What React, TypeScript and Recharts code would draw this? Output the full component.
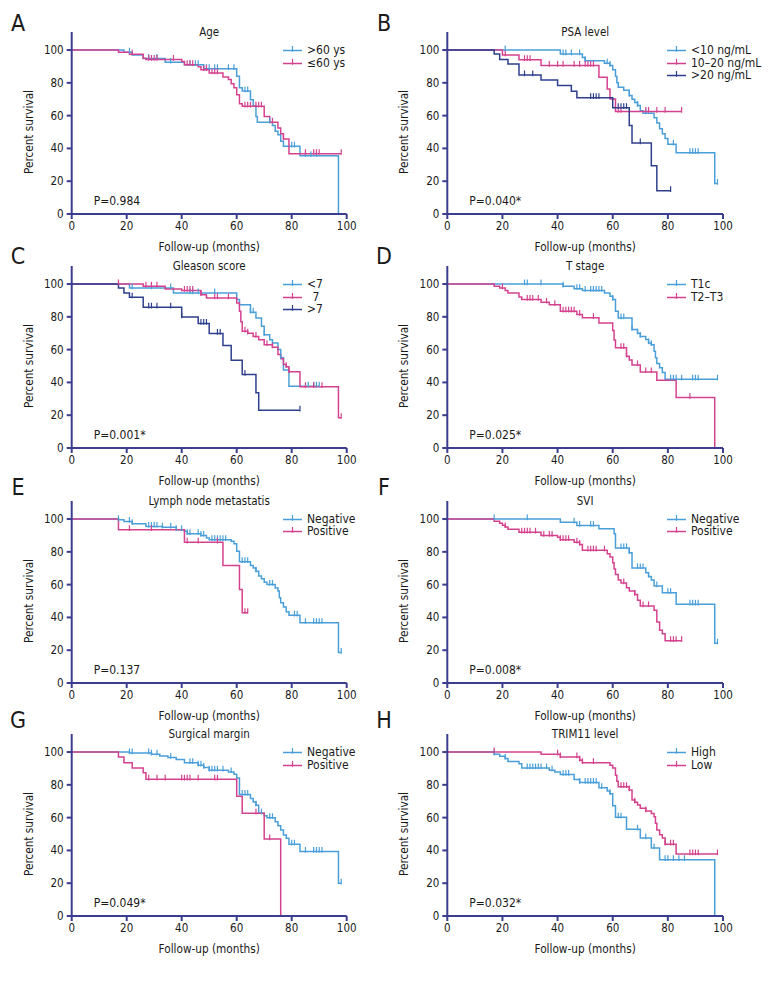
import React from 'react';
import { ComposedChart, Line, XAxis, YAxis } from 'recharts';

const FONT = "'Liberation Sans Narrow', 'DejaVu Sans Condensed', 'Arial Narrow', sans-serif";
const BLUE = '#4a9fd9';
const PINK = '#d4428f';
const NAVY = '#2e3f8c';
const AXIS = '#3b3d8e';
const TEXT = '#1a1a1a';

const xTicks = [0, 20, 40, 60, 80, 100];
const yTicks = [0, 20, 40, 60, 80, 100];
const xLabel = 'Follow-up (months)';
const yLabel = 'Percent survival';

// ---- A: Age ----
const A_over60_steps = [[0,100],[19,98.6],[22,97],[26,94.8],[34,92.5],[41,91],[48,88.6],[60,84],[61,77],[62,75],[65,69.7],[66,66],[67,59.5],[67.5,56],[73,54],[74,50.5],[75,48.3],[76,44.3],[77,41.3],[83,35.6],[97,0]];
const A_over60_censor = [21,28,31,36,43,45,46,49,50,52,53,57,59,63,64,72,80,81,85,87,89];
const A_under60_steps = [[0,100],[17,98.6],[21,97.5],[26,95],[27,94.2],[40,93],[41,91],[46,89.8],[47,88],[50,86],[55,83.5],[57,82],[58,79.5],[59,77],[60,72.8],[61,67.3],[62,65.7],[70,59.5],[72,56],[75,52.4],[76,49],[77,45.7],[79,36.8]];
const A_under60_censor = [22,28,29,30,31,37,42,43,44,48,49,51,52,53,63,64,65,67,68,69,73,77,85,88,89,90,98];

// ---- B: PSA level ----
const B_lt10_steps = [[0,100],[41,97.6],[49,95.5],[50,93.5],[57,92],[59,90.5],[60,88],[61,84],[61.5,80],[62,77.3],[64,75.5],[66,72.3],[67,70],[68,68],[69,66.2],[70,63],[71,61.5],[75,58.7],[76,55.5],[77,52],[78,49],[79,46],[80,42.5],[83,37.4],[97,18.6]];
const B_lt10_censor = [21,42,43,45,48,50,58,59,66,69,72,82,88,89,90,91,98];
const B_10to20_steps = [[0,100],[20,97],[26,94],[34,90.5],[55,83.4],[58,76.3],[59,70.2],[61,62.5]];
const B_10to20_censor = [21,28,29,30,37,40,42,46,48,50,51,52,53,62,63,72,73,76,79,85];
const B_gt20_steps = [[0,100],[17,97.6],[19,94.3],[22,91.5],[26,84.8],[34,81.8],[40,78.3],[45,74.9],[47,70.9],[60,64.8],[66,54],[67,43.3],[74,29.4],[76,14.2]];
const B_gt20_censor = [28,31,52,53,54,55,62,63,64,65,70,81];

// ---- C: Gleason score ----
const C_lt7_steps = [[0,100],[21,97.6],[37,94.5],[60,90.5],[61,87.4],[65,82.8],[67,79.3],[69,74.2],[70,69],[72,66],[73,64],[75,60],[76,55],[77,47.5],[79,37.7]];
const C_lt7_censor = [22,29,36,43,44,46,52,65,66,70,76,86,88,89,90];
const C_eq7_steps = [[0,100],[26,98.6],[34,97],[40,96],[47,93.5],[49,91.5],[60,88.4],[61,83.4],[61.5,77],[62,71.2],[64,70],[66,68],[68,66],[70,63],[73,61.5],[75,57],[76,54.5],[77,51],[78,49.5],[79,46.5],[83,37.3],[97,18.5]];
const C_eq7_censor = [17,27,29,31,41,42,43,44,47,52,53,57,63,64,67,71,73,78,79,85,88,91,98];
const C_gt7_steps = [[0,100],[17,97.6],[19,94.5],[21,92],[26,85.8],[40,79.9],[46,75.9],[50,69.8],[55,62.5],[58,53.5],[62,44.8],[67,33.7],[68,23]];
const C_gt7_censor = [22,28,29,31,36,40,47,48,49,53,54,63,83];

// ---- D: T stage ----
const D_t1c_steps = [[0,100],[42,98.6],[46,97.2],[49,96],[57,94.5],[59,92.5],[60,90.5],[61,83.4],[62,79.3],[67,72.3],[69,70],[70,68],[72,66.2],[73,64],[74,63],[75,59],[75.5,55],[76,51.6],[77,49],[78,46],[79,41.9]];
const D_t1c_censor = [28,29,34,42,47,48,50,52,53,54,55,56,60,63,64,67,69,70,73,74,81,82,83,85,89,90,91,98];
const D_t2t3_steps = [[0,100],[17,98.6],[19,97.6],[21,96],[22,94.5],[26,92.1],[27,90.5],[34,88.9],[37,87.4],[41,83.4],[47,81.4],[49,79.4],[55,76.3],[60,71.7],[60.5,65.8],[61,61.1],[65,56],[66,53.6],[67,50.6],[70,46.4],[76,41.3],[83,30.8],[97,0]];
const D_t2t3_censor = [20,29,30,31,33,36,39,42,43,44,45,46,48,53,63,64,65,69,72,74,88];

// ---- E: Lymph node metastatis ----
const E_neg_steps = [[0,100],[17,99.6],[19,98.5],[22,97.2],[27,95.5],[33,95],[38,93.5],[41,92.5],[42,91],[47,89.9],[49,88.5],[50,87.4],[58,86.4],[59,85],[60,80.4],[61,73.9],[65,71.7],[66,70.2],[67,68.2],[68,65.2],[69,63.6],[70,61.5],[71,60.1],[74,58],[75,56.1],[75.5,52],[76,49],[77,46.4],[78,43.5],[79,41.3],[83,36.8],[97,18.6]];
const E_neg_censor = [17,21,22,28,29,30,31,33,36,38,40,42,43,46,47,48,51,52,53,54,55,56,62,63,64,67,72,73,81,82,85,88,89,90,91,98];
const E_pos_steps = [[0,100],[17,93.5],[41,85.8],[55,71.7],[61,57.1],[62,42.9]];
const E_pos_censor = [21,29,42,46,53,63,64];

// ---- F: SVI ----
const F_neg_steps = [[0,100],[41,98],[47,96],[55,94.1],[60.5,91],[61,82.4],[66,79.4],[67,70.2],[72,67.2],[73,65],[74,62.8],[75,59.1],[78,55.1],[83,48],[97,24.3]];
const F_neg_censor = [17,29,46,48,52,53,63,64,65,66,69,70,71,73,76,80,81,88,89,90,91,98];
const F_pos_steps = [[0,100],[17,98.6],[19,97.5],[20,96.2],[21,95.2],[22,93.8],[26,91.9],[34,89.9],[40,88.9],[41,87.4],[46,85.8],[48,84.4],[49,81],[58,78.9],[59,76.9],[60,73.3],[60.5,69.6],[61,66.2],[62,62.8],[63,61],[65,58.1],[66,56.1],[68,54],[69,50.5],[70,47],[75,44.3],[76,37.2],[77,32.2],[78,30],[79,25.7]];
const F_pos_censor = [21,27,28,29,30,32,35,37,38,41,42,43,44,47,48,51,52,53,54,57,64,68,71,73,81,82,83,85];

// ---- G: Surgical margin ----
const G_neg_steps = [[0,100],[21,99.4],[29,98.6],[32,97.6],[35,96.6],[38,95.5],[41,93.5],[46,91.9],[48,90.5],[50,88.9],[57,87.9],[59,86.4],[60,84.2],[61,74.1],[65,71.7],[66,69.5],[67,67.6],[68,62.6],[70,61.1],[71,59.9],[74,57.5],[75,55],[76,52.4],[77,49.4],[78,47.4],[79,43.7],[83,39.3],[97,20]];
const G_neg_censor = [21,22,28,29,31,36,43,44,46,47,48,50,51,52,53,55,58,62,63,64,67,69,72,73,80,81,85,88,89,90,91,98];
const G_pos_steps = [[0,100],[17,97],[19,93.5],[22,90.3],[26,87.4],[27,83.4],[60,73.1],[62,62.6],[70,47],[76,0]];
const G_pos_censor = [28,31,34,40,41,42,43,46,52,53,67,72];

// ---- H: TRIM11 level ----
const H_high_steps = [[0,100],[17,98.6],[19,97.4],[21,96],[22,94.3],[26,92.9],[27,90.3],[37,88.9],[39,87.9],[41,86.3],[46,83.2],[48,81.4],[55,78.2],[58,76.2],[59,74.5],[60,67.3],[61,60.2],[65,52.9],[70,47.5],[74,41.4],[77,34.3],[97,0]];
const H_high_censor = [17,21,29,30,31,32,33,34,36,38,42,43,44,48,50,51,52,53,54,56,59,62,63,69,72,75,79,80,82,84,86];
const H_low_steps = [[0,100],[34,98.6],[41,97],[48,95],[49,93.5],[59,91.9],[60,90.3],[61,85.9],[61.5,82.2],[62,78.8],[66,76.8],[67,70.7],[68,69.3],[69,67.7],[70,65.7],[72,64],[74,62.5],[75,60.6],[75.5,56.6],[76,52.5],[77,49.5],[78,47.5],[79,43.8],[83,37.8]];
const H_low_censor = [17,40,41,47,48,49,53,63,64,65,66,68,72,79,81,82,88,89,90,91,98];

type Curve = { name: string; color: string; steps: number[][]; censor: number[] };
type PanelDef = { letter: string; title: string; p: string; curves: Curve[] };

const panels: PanelDef[] = [
  { letter: 'A', title: 'Age', p: 'P=0.984', curves: [
    { name: '>60 ys', color: BLUE, steps: A_over60_steps, censor: A_over60_censor },
    { name: '\u226460 ys', color: PINK, steps: A_under60_steps, censor: A_under60_censor },
  ] },
  { letter: 'B', title: 'PSA level', p: 'P=0.040*', curves: [
    { name: '<10 ng/mL', color: BLUE, steps: B_lt10_steps, censor: B_lt10_censor },
    { name: '10\u201320 ng/mL', color: PINK, steps: B_10to20_steps, censor: B_10to20_censor },
    { name: '>20 ng/mL', color: NAVY, steps: B_gt20_steps, censor: B_gt20_censor },
  ] },
  { letter: 'C', title: 'Gleason score', p: 'P=0.001*', curves: [
    { name: '<7', color: BLUE, steps: C_lt7_steps, censor: C_lt7_censor },
    { name: '\u20027', color: PINK, steps: C_eq7_steps, censor: C_eq7_censor },
    { name: '>7', color: NAVY, steps: C_gt7_steps, censor: C_gt7_censor },
  ] },
  { letter: 'D', title: 'T stage', p: 'P=0.025*', curves: [
    { name: 'T1c', color: BLUE, steps: D_t1c_steps, censor: D_t1c_censor },
    { name: 'T2\u2013T3', color: PINK, steps: D_t2t3_steps, censor: D_t2t3_censor },
  ] },
  { letter: 'E', title: 'Lymph node metastatis', p: 'P=0.137', curves: [
    { name: 'Negative', color: BLUE, steps: E_neg_steps, censor: E_neg_censor },
    { name: 'Positive', color: PINK, steps: E_pos_steps, censor: E_pos_censor },
  ] },
  { letter: 'F', title: 'SVI', p: 'P=0.008*', curves: [
    { name: 'Negative', color: BLUE, steps: F_neg_steps, censor: F_neg_censor },
    { name: 'Positive', color: PINK, steps: F_pos_steps, censor: F_pos_censor },
  ] },
  { letter: 'G', title: 'Surgical margin', p: 'P=0.049*', curves: [
    { name: 'Negative', color: BLUE, steps: G_neg_steps, censor: G_neg_censor },
    { name: 'Positive', color: PINK, steps: G_pos_steps, censor: G_pos_censor },
  ] },
  { letter: 'H', title: 'TRIM11 level', p: 'P=0.032*', curves: [
    { name: 'High', color: BLUE, steps: H_high_steps, censor: H_high_censor },
    { name: 'Low', color: PINK, steps: H_low_steps, censor: H_low_censor },
  ] },
];

function build(c: Curve) {
  const pts: { t: number; s: number; c: number }[] = c.steps.map(([t, s]) => ({ t, s, c: 0 }));
  c.censor.forEach((t) => {
    let s = 100;
    for (const [tt, ss] of c.steps) if (tt <= t) s = ss;
    pts.push({ t, s, c: 1 });
  });
  pts.sort((a, b) => a.t - b.t || a.c - b.c);
  return pts;
}

const rowTops = [0, 234, 468.5, 702];
const letterTops = [23, 256, 487, 720];
const colLefts = [0, 384];
const plotLefts = [71.7, 63.3];
const rightMargins = [37.3, 45];
const W = 384;
const H = 260;
const PLOT_TOP = 32;
const PLOT_BOTTOM = 214;

function Panel({ def, idx }: { def: PanelDef; idx: number }) {
  const row = Math.floor(idx / 2);
  const col = idx % 2;
  const L = colLefts[col];
  const T = rowTops[row];
  const pl = plotLefts[col];
  const pr = W - rightMargins[col];
  const pc = (pl + pr) / 2;
  const txt: React.CSSProperties = { position: 'absolute', color: TEXT, fontFamily: FONT, whiteSpace: 'pre', lineHeight: 1 };
  return (
    <div style={{ position: 'absolute', left: L, top: T, width: W, height: H }}>
      <ComposedChart width={W} height={H} margin={{ top: PLOT_TOP, right: rightMargins[col], bottom: 0, left: 0 }}>
        <XAxis
          type="number"
          dataKey="t"
          domain={[0, 100]}
          ticks={xTicks}
          allowDataOverflow
          height={H - PLOT_BOTTOM}
          tickSize={5}
          tickMargin={3}
          axisLine={{ stroke: AXIS, strokeWidth: 2 }}
          tickLine={{ stroke: AXIS, strokeWidth: 2 }}
          tick={{ fill: TEXT, fontSize: 11.5, fontFamily: FONT }}
        />
        <YAxis
          type="number"
          domain={[0, 111]}
          ticks={yTicks}
          allowDataOverflow
          width={pl}
          tickSize={5}
          tickMargin={3}
          axisLine={{ stroke: AXIS, strokeWidth: 2 }}
          tickLine={{ stroke: AXIS, strokeWidth: 2 }}
          tick={{ fill: TEXT, fontSize: 11.5, fontFamily: FONT }}
        />
        {def.curves.map((c, i) => (
          <Line
            key={c.name + i}
            data={build(c)}
            dataKey="s"
            type="stepAfter"
            stroke={c.color}
            strokeWidth={1.5}
            activeDot={false}
            isAnimationActive={false}
            dot={(p: any) => {
              const k = `d${i}-${p.index}`;
              if (!p.payload || !p.payload.c) return <g key={k} />;
              return <line key={k} x1={p.cx} x2={p.cx} y1={p.cy - 4.5} y2={p.cy + 1.2} stroke={c.color} strokeWidth={1.2} />;
            }}
          />
        ))}
      </ComposedChart>
      <div style={{ ...txt, left: pc, top: 33, fontSize: 11.5, transform: 'translate(-50%, -50%)' }}>{def.title}</div>
      <div style={{ ...txt, left: pl + 22, top: 201, fontSize: 12, transform: 'translateY(-50%)' }}>{def.p}</div>
      <div style={{ ...txt, left: pc, top: 248, fontSize: 11.7, transform: 'translate(-50%, -50%)' }}>{xLabel}</div>
      <div style={{ ...txt, left: pl - 42, top: 132, fontSize: 11.7, transform: 'translate(-50%, -50%) rotate(-90deg)' }}>{yLabel}</div>
      {def.curves.map((c, i) => (
        <div key={'lg' + i} style={{ position: 'absolute', left: 283, top: 49.5 + i * 12.5, height: 11, transform: 'translateY(-50%)', display: 'flex', alignItems: 'center' }}>
          <svg width={20} height={10} style={{ display: 'block' }}>
            <line x1={0} x2={19} y1={6} y2={6} stroke={c.color} strokeWidth={1.5} />
            <line x1={9.5} x2={9.5} y1={1.5} y2={7.2} stroke={c.color} strokeWidth={1.2} />
          </svg>
          <span style={{ ...txt, position: 'static', marginLeft: 4, fontSize: 12 }}>{c.name}</span>
        </div>
      ))}
      <div style={{ ...txt, left: col === 0 ? 18 : 0, top: letterTops[row] - T, fontSize: 23, transform: 'translate(-50%, -50%)' }}>{def.letter}</div>
    </div>
  );
}

export default function App() {
  return (
    <div style={{ position: 'absolute', left: 0, top: 0, width: 768, height: 984, background: '#fff', overflow: 'hidden' }}>
      {panels.map((d, i) => (
        <Panel key={d.letter} def={d} idx={i} />
      ))}
    </div>
  );
}
